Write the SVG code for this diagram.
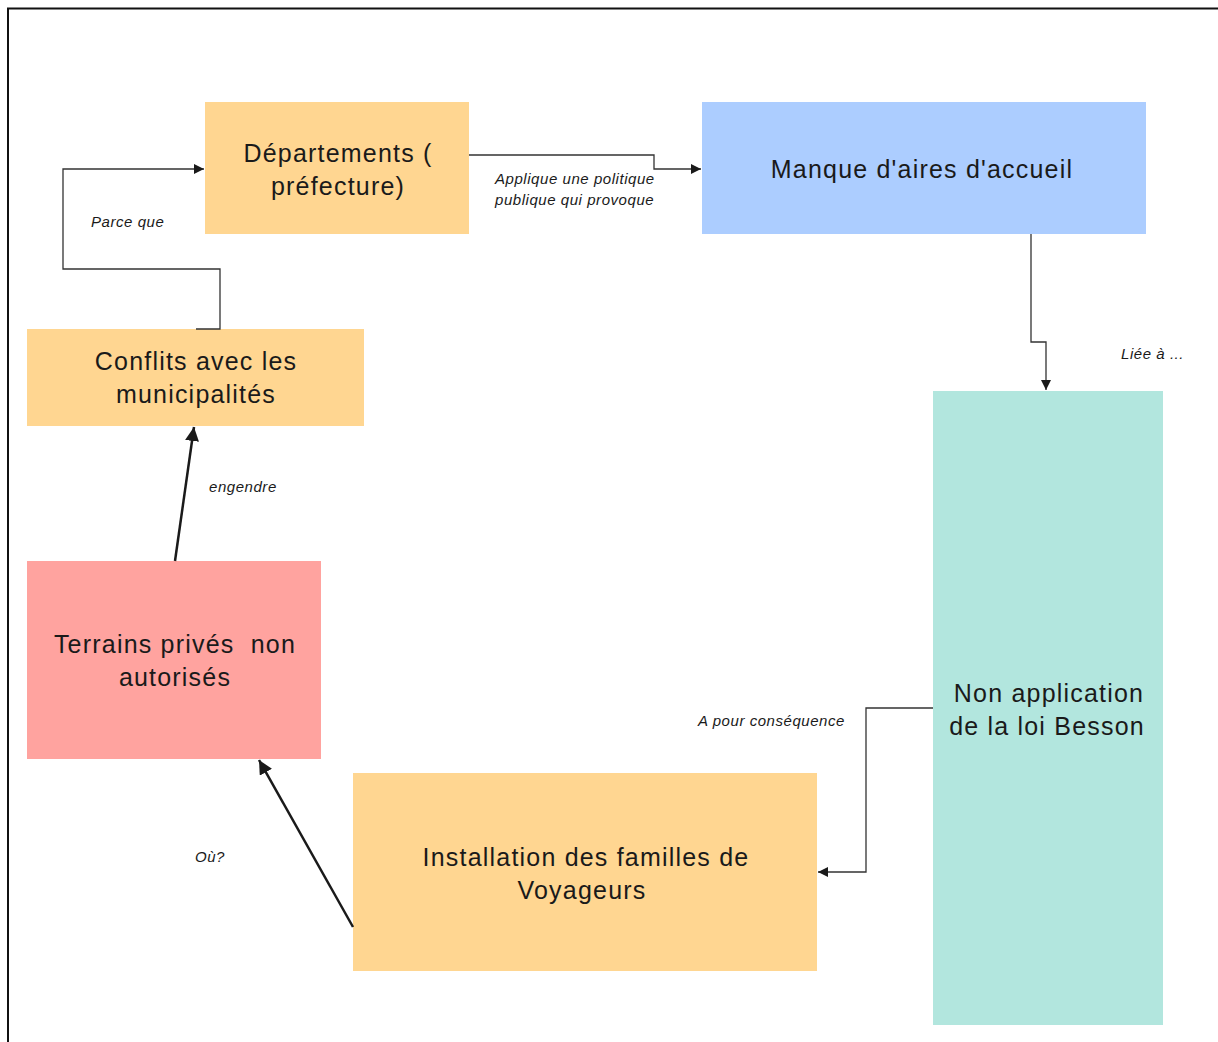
<svg xmlns="http://www.w3.org/2000/svg" width="1218" height="1042" viewBox="0 0 1218 1042">
<style>
.n{font-family:"Liberation Sans",Arial,sans-serif;font-size:25px;letter-spacing:1.2px;fill:#1a1a1a;text-anchor:middle}
.l{font-family:"Liberation Sans",Arial,sans-serif;font-size:15px;letter-spacing:0.55px;font-style:italic;fill:#1a1a1a}
.c{fill:none;stroke:#333;stroke-width:1.3}
.t{fill:none;stroke:#1a1a1a;stroke-width:2.5}
</style>
<defs>
<marker id="a" viewBox="0 0 10 10" refX="10" refY="5" markerWidth="10" markerHeight="10" markerUnits="userSpaceOnUse" orient="auto"><path d="M0,0L10,5L0,10z" fill="#1a1a1a"/></marker>
<marker id="b" viewBox="0 0 10 10" refX="10" refY="5" markerWidth="14" markerHeight="14" markerUnits="userSpaceOnUse" orient="auto"><path d="M0,0L10,5L0,10z" fill="#1a1a1a"/></marker>
</defs>
<rect width="1218" height="1042" fill="#fff"/>
<path d="M8,1042V8.5H1218" fill="none" stroke="#111" stroke-width="2"/>
<g id="departements"><rect x="205" y="102" width="264" height="132" fill="#ffd691"/><text class="n" x="338" y="162">Départements (</text><text class="n" x="338" y="195">préfecture)</text></g>
<g id="manque"><rect x="702" y="102" width="444" height="132" fill="#accdff"/><text class="n" x="922" y="178">Manque d'aires d'accueil</text></g>
<g id="nonapplication"><rect x="933" y="391" width="230" height="634" fill="#b2e6de"/><text class="n" x="1049" y="702">Non application</text><text class="n" x="1047" y="735">de la loi Besson</text></g>
<g id="installation"><rect x="353" y="773" width="464" height="198" fill="#ffd691"/><text class="n" x="586" y="866">Installation des familles de</text><text class="n" x="582" y="899">Voyageurs</text></g>
<g id="terrains"><rect x="27" y="561" width="294" height="198" fill="#ffa39f"/><text class="n" x="175" y="653" xml:space="preserve">Terrains privés  non</text><text class="n" x="175" y="686">autorisés</text></g>
<g id="conflits"><rect x="27" y="329" width="337" height="97" fill="#ffd691"/><text class="n" x="196" y="370">Conflits avec les</text><text class="n" x="196" y="403">municipalités</text></g>
<g id="connectors">
<path class="c" d="M196,329H220V269H63V169H204" marker-end="url(#a)"/>
<path class="c" d="M469,155H654V169H701" marker-end="url(#a)"/>
<path class="c" d="M1031,234V342H1046V390" marker-end="url(#a)"/>
<path class="c" d="M933,708H866V872H818" marker-end="url(#a)"/>
<path class="t" d="M353,927L259,760" marker-end="url(#b)"/>
<path class="t" d="M175,561L194,427" marker-end="url(#b)"/>
</g>
<g id="labels">
<text class="l" x="91" y="227">Parce que</text>
<text class="l" x="495" y="184">Applique une politique</text>
<text class="l" x="495" y="205">publique qui provoque</text>
<text class="l" x="1121" y="359">Liée à ...</text>
<text class="l" x="698" y="726">A pour conséquence</text>
<text class="l" x="209" y="492">engendre</text>
<text class="l" x="195" y="862">Où?</text>
</g>
</svg>
